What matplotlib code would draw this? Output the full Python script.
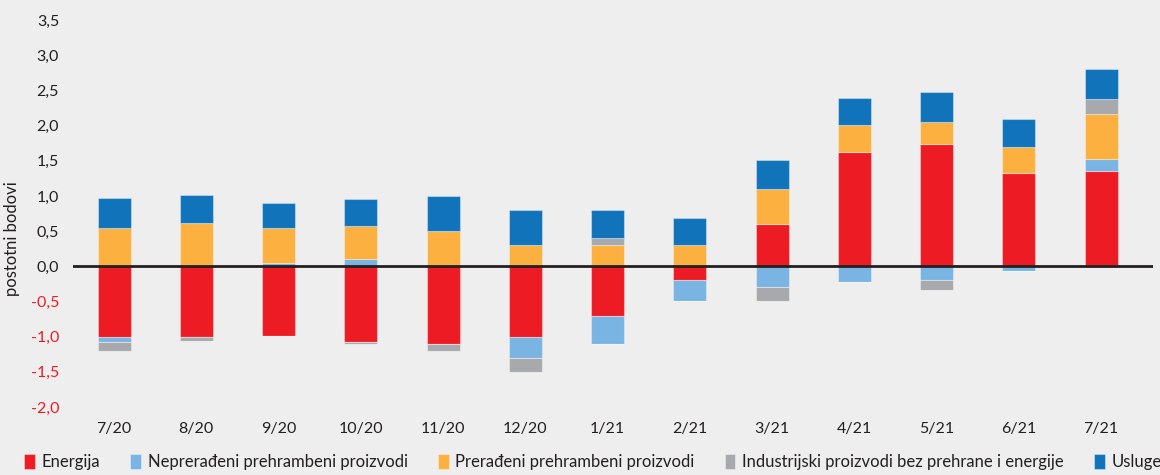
import matplotlib
matplotlib.use("Agg")
import matplotlib.pyplot as plt
import numpy as np

plt.rcParams['font.family'] = ['Lato', 'DejaVu Sans']

months = ["7/20", "8/20", "9/20", "10/20", "11/20", "12/20", "1/21", "2/21",
          "3/21", "4/21", "5/21", "6/21", "7/21"]

energija = [-1.01, -1.00, -0.985, -1.08, -1.10, -1.00, -0.70, -0.20, 0.60, 1.63, 1.74, 1.33, 1.35]
neprer = [-0.07, 0.00, 0.05, 0.10, 0.00, -0.30, -0.40, -0.30, -0.30, -0.23, -0.19, -0.07, 0.17]
preradeni = [0.55, 0.62, 0.49, 0.47, 0.50, 0.30, 0.30, 0.30, 0.50, 0.38, 0.31, 0.36, 0.65]
industrijski = [-0.12, -0.06, 0.00, -0.03, -0.11, -0.20, 0.10, 0.00, -0.20, 0.00, -0.14, 0.00, 0.21]
usluge = [0.42, 0.40, 0.36, 0.39, 0.50, 0.50, 0.40, 0.39, 0.41, 0.38, 0.43, 0.40, 0.43]

series = [
    ("Energija", energija, "#ED1C24"),
    ("Neprerađeni prehrambeni proizvodi", neprer, "#7AB4E2"),
    ("Prerađeni prehrambeni proizvodi", preradeni, "#FBB040"),
    ("Industrijski proizvodi bez prehrane i energije", industrijski, "#A7A9AC"),
    ("Usluge", usluge, "#1174BB"),
]

bg = "#EEEEEE"
fig = plt.figure(figsize=(11.6, 4.75), dpi=100, facecolor=bg)
ax = fig.add_axes([0.0629, 0.143, 0.931, 0.815], facecolor=bg)

x = np.arange(len(months))
pos_base = np.zeros(len(months))
neg_base = np.zeros(len(months))
handles = []
for name, vals, col in series:
    v = np.array(vals)
    pos = np.where(v > 0, v, 0)
    neg = np.where(v < 0, v, 0)
    h = ax.bar(x, pos, bottom=pos_base, width=0.4, color=col, edgecolor=(1, 1, 1, 0.35),
               linewidth=0.8, label=name, zorder=2)
    ax.bar(x, neg, bottom=neg_base, width=0.4, color=col, edgecolor=(1, 1, 1, 0.35),
           linewidth=0.8, zorder=2)
    pos_base += pos
    neg_base += neg
    handles.append(h)

ax.axhline(0, color="#231F20", linewidth=2, zorder=3)

ax.set_xlim(-0.5, 12.63)
ax.set_ylim(-2.0, 3.5)
yt = np.arange(-2.0, 3.51, 0.5)
ax.set_yticks(yt)
ax.set_yticklabels([f"{t:.1f}".replace(".", ",") for t in yt], fontsize=11.5)
for lbl, t in zip(ax.get_yticklabels(), yt):
    lbl.set_color("#ED1C24" if t < 0 else "#231F20")
ax.set_xticks(x)
ax.set_xticklabels(months, fontsize=11.5, color="#231F20")
ax.tick_params(axis="both", length=0)
ax.tick_params(axis="y", pad=10)
ax.tick_params(axis="x", pad=11)
for s in ax.spines.values():
    s.set_visible(False)
ax.set_ylabel("postotni bodovi", fontsize=12, color="#231F20")
ax.yaxis.set_label_coords(-0.049, 0.434)

fig.legend(handles=handles, loc="lower left", bbox_to_anchor=(0.008, -0.022), ncol=5,
           frameon=False, fontsize=12, handlelength=0.65, handleheight=1.0,
           handletextpad=0.4, columnspacing=1.8, labelcolor="#231F20")

fig.savefig("out.png", dpi=100, facecolor=bg)
